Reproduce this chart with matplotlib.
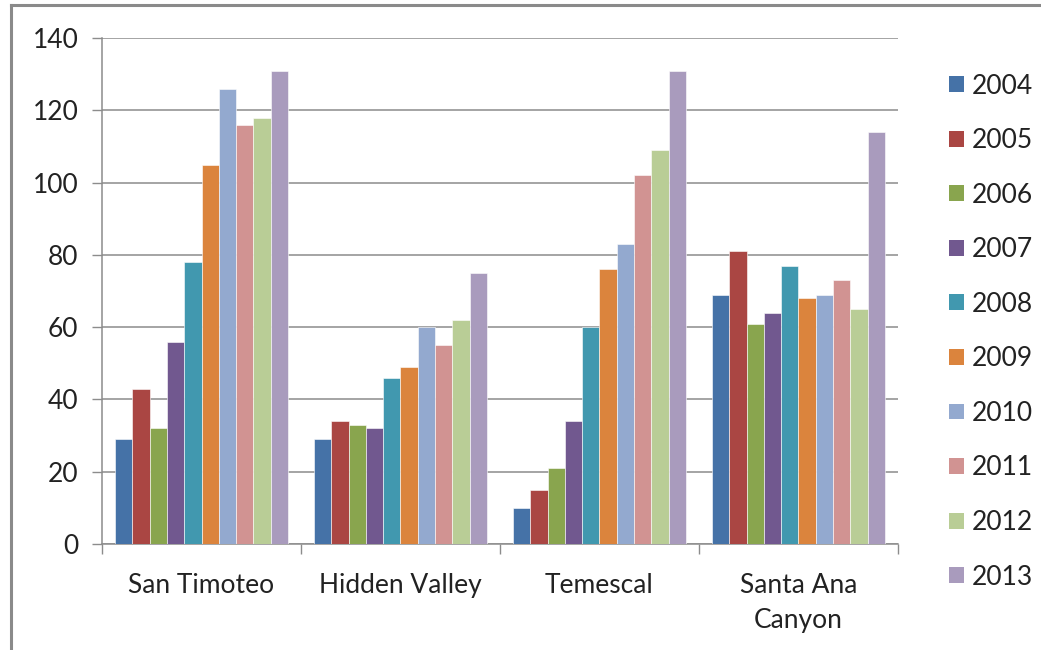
import numpy as np
import matplotlib.pyplot as plt
from matplotlib.lines import Line2D

plt.rcParams['font.family'] = ['Lato', 'DejaVu Sans']

sites = ["San Timoteo", "Hidden Valley", "Temescal", "Santa Ana\nCanyon"]
years = ["2004", "2005", "2006", "2007", "2008", "2009", "2010", "2011", "2012", "2013"]

# counts per site, one list per year
y2004 = [29, 29, 10, 69]
y2005 = [43, 34, 15, 81]
y2006 = [32, 33, 21, 61]
y2007 = [56, 32, 34, 64]
y2008 = [78, 46, 60, 77]
y2009 = [105, 49, 76, 68]
y2010 = [126, 60, 83, 69]
y2011 = [116, 55, 102, 73]
y2012 = [118, 62, 109, 65]
y2013 = [131, 75, 131, 114]
series = [y2004, y2005, y2006, y2007, y2008, y2009, y2010, y2011, y2012, y2013]

colors = ["#4572A7", "#AA4643", "#89A54E", "#71588F", "#4198AF",
          "#DB843D", "#93A9CF", "#D19392", "#B9CD96", "#A99BBD"]

fig = plt.figure(figsize=(10.41, 6.5), dpi=100)
ax = fig.add_axes([0.098, 0.163, 0.7646, 0.7785])

x = np.arange(len(sites))
n = len(series)
w = 1.0 / (n + 1.5)
for i, (vals, c, lab) in enumerate(zip(series, colors, years)):
    ax.bar(x + (i - (n - 1) / 2) * w, vals, width=w, color=c, label=lab,
           edgecolor="white", linewidth=0.4, zorder=3)

ax.set_xlim(-0.5, len(sites) - 0.5)
ax.set_ylim(0, 140)
ax.set_yticks(range(0, 141, 20))
ax.grid(axis="y", color="#8c8c8c", linewidth=1.1, zorder=0)

# boundary ticks between groups, labels at the centers
ax.set_xticks(np.arange(-0.5, len(sites), 1.0))
ax.set_xticklabels([])
ax.set_xticks(x, minor=True)
ax.set_xticklabels(sites, minor=True, fontsize=19, color="#222222",
                   linespacing=1.5, va="top")
ax.tick_params(axis="x", which="minor", length=0, pad=21)
ax.tick_params(axis="x", which="major", length=7, width=1, color="#8c8c8c", direction="out")
ax.tick_params(axis="y", length=7, width=1, color="#8c8c8c", direction="out",
               labelsize=19, labelcolor="#222222", pad=10)

for s in ["top", "right"]:
    ax.spines[s].set_visible(False)
for s in ["left", "bottom"]:
    ax.spines[s].set_color("#8c8c8c")
    ax.spines[s].set_linewidth(1.1)

leg = ax.legend(loc="center left", bbox_to_anchor=(1.041, 0.42), frameon=False,
                fontsize=19, handlelength=0.55, handleheight=0.55,
                handletextpad=0.3, labelspacing=1.12, labelcolor="#222222",
                borderaxespad=0.3)
for h in leg.legend_handles:
    h.set_linewidth(0)

# outer border of the chart area
fig.add_artist(Line2D([11 / 1041, 11 / 1041], [0, 1 - 4.5 / 650],
                      transform=fig.transFigure, color="#8a8a8a", linewidth=2.2))
fig.add_artist(Line2D([11 / 1041, 1], [1 - 4.5 / 650, 1 - 4.5 / 650],
                      transform=fig.transFigure, color="#8a8a8a", linewidth=2.2))

fig.savefig("out.png", dpi=100)
